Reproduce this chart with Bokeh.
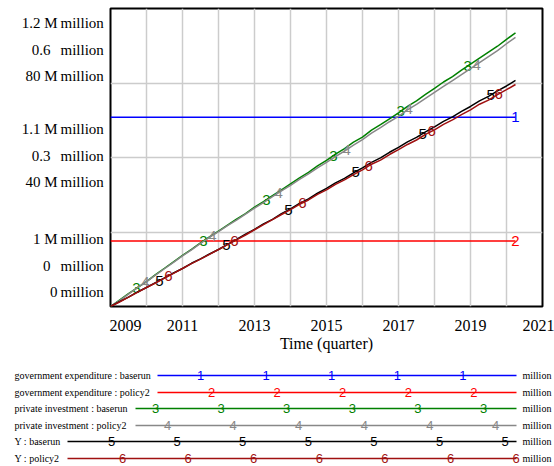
import numpy as np
from bokeh.plotting import figure
from bokeh.models import Range1d, FixedTicker
from bokeh.layouts import column, row
from bokeh.embed import file_html
from bokeh.resources import INLINE
from bokeh.core.properties import value

# ---------------- data ----------------
time = np.arange(2009.0, 2020.26, 0.25)  # quarterly time steps (46)

gov_baserun = 1.127   # M million (constant)
gov_policy2 = 1.044   # M million (constant)

inv_baserun = [0.000, 0.013, 0.026, 0.038, 0.050, 0.064, 0.077, 0.090, 0.103, 0.115,
               0.128, 0.140, 0.152, 0.164, 0.176, 0.187, 0.200, 0.211, 0.223, 0.235,
               0.247, 0.259, 0.270, 0.283, 0.294, 0.307, 0.318, 0.331, 0.341, 0.355,
               0.366, 0.378, 0.390, 0.403, 0.414, 0.427, 0.439, 0.452, 0.463, 0.476,
               0.488, 0.500, 0.512, 0.524, 0.538, 0.551]
inv_policy2 = [0.000, 0.012, 0.025, 0.038, 0.050, 0.063, 0.076, 0.089, 0.102, 0.114,
               0.127, 0.139, 0.151, 0.163, 0.174, 0.186, 0.198, 0.209, 0.221, 0.233,
               0.244, 0.256, 0.267, 0.279, 0.290, 0.302, 0.313, 0.325, 0.336, 0.349,
               0.360, 0.372, 0.383, 0.396, 0.407, 0.419, 0.431, 0.443, 0.455, 0.467,
               0.479, 0.491, 0.503, 0.515, 0.529, 0.542]
y_baserun = [0.0, 1.3, 2.5, 3.9, 5.1, 6.4, 7.7, 9.0, 10.2, 11.6,
             12.8, 14.1, 15.3, 16.7, 18.0, 19.4, 20.7, 22.2, 23.4, 24.9,
             26.2, 27.7, 28.9, 30.4, 31.7, 33.2, 34.4, 35.9, 37.2, 38.7,
             39.9, 41.4, 42.7, 44.2, 45.4, 46.9, 48.2, 49.7, 50.9, 52.4,
             53.7, 55.2, 56.4, 57.9, 59.2, 60.7]
y_policy2 = [0.0, 1.2, 2.5, 3.8, 5.1, 6.3, 7.6, 8.9, 10.2, 11.5,
             12.7, 14.0, 15.3, 16.6, 17.9, 19.2, 20.6, 22.0, 23.3, 24.7,
             26.0, 27.4, 28.6, 30.1, 31.3, 32.8, 34.0, 35.4, 36.7, 38.2,
             39.3, 40.8, 42.1, 43.5, 44.7, 46.2, 47.4, 48.9, 50.1, 51.5,
             52.8, 54.3, 55.4, 56.9, 58.2, 59.6]

# times where the series number marks are drawn
marks_1 = [2020.25]
marks_2 = [2020.25]
marks_3 = [2009.72, 2011.58, 2013.33, 2015.19, 2017.06, 2018.92]
marks_4 = [2009.97, 2011.83, 2013.67, 2015.56, 2017.28, 2019.17]
marks_5 = [2010.36, 2012.22, 2013.94, 2015.81, 2017.67, 2019.56]
marks_6 = [2010.61, 2012.44, 2014.33, 2016.17, 2017.92, 2019.78]

x_ticks = [2009, 2011, 2013, 2015, 2017, 2019, 2021]
x_tick_labels = ["2009", "2011", "2013", "2015", "2017", "2019", "2021"]
x_grid_years = [2009, 2010, 2011, 2012, 2013, 2014, 2015, 2016, 2017, 2018, 2019, 2020, 2021]
x_label = "Time (quarter)"

scale_names = ["gov", "inv", "default"]
scale_ranges = {"gov": (1.0, 1.2), "inv": (0.0, 0.6), "default": (0.0, 80.0)}
scale_ticks = {"gov": [1.0, 1.1, 1.2], "inv": [0.0, 0.3, 0.6], "default": [0.0, 40.0, 80.0]}
scale_tick_labels = {"gov": ["1 M", "1.1 M", "1.2 M"],
                     "inv": ["0", "0.3", "0.6"],
                     "default": ["0", "40 M", "80 M"]}
y_grid_ticks = [0, 20, 40, 60, 80]
unit = "million"

names = ["government expenditure : baserun", "government expenditure : policy2",
         "private investment : baserun", "private investment : policy2",
         "Y : baserun", "Y : policy2"]
numbers = ["1", "2", "3", "4", "5", "6"]
colors = ["#0000FF", "#FF0000", "#008000", "#888888", "#000000", "#A01010"]
ranges = ["gov", "gov", "inv", "inv", "default", "default"]
values = [[gov_baserun] * len(time), [gov_policy2] * len(time),
          inv_baserun, inv_policy2, y_baserun, y_policy2]
marks = [marks_1, marks_2, marks_3, marks_4, marks_5, marks_6]

SERIF = "Liberation Serif"
SANS = "Liberation Sans"

MAIN_H = 364
TOP = 8
BOTTOM = 58

shared_y = Range1d(*scale_ranges["default"])
shared_extra = {"gov": Range1d(*scale_ranges["gov"]), "inv": Range1d(*scale_ranges["inv"])}

# ---------------- main chart ----------------
p = figure(width=445, height=MAIN_H, x_range=Range1d(2009, 2021), y_range=shared_y,
           output_backend="svg", toolbar_location=None,
           min_border_left=1, min_border_right=12, min_border_top=TOP, min_border_bottom=BOTTOM)
p.extra_y_ranges = shared_extra

p.outline_line_color = "black"
p.outline_line_width = 2
p.background_fill_color = "white"
p.border_fill_color = "white"

p.yaxis.visible = False
p.ygrid.ticker = FixedTicker(ticks=y_grid_ticks)
p.xgrid.ticker = FixedTicker(ticks=x_grid_years)
p.grid.grid_line_color = "#CCCCCC"
p.grid.grid_line_width = 1.5

p.xaxis.ticker = FixedTicker(ticks=x_ticks)
p.xaxis.major_label_overrides = {t: l for t, l in zip(x_ticks, x_tick_labels)}
p.xaxis.axis_line_color = None
p.xaxis.major_tick_line_color = None
p.xaxis.minor_tick_line_color = None
p.xaxis.major_tick_out = 0
p.xaxis.major_label_standoff = 13
p.xaxis.major_label_text_font = SERIF
p.xaxis.major_label_text_font_size = "16px"
p.xaxis.major_label_text_color = "black"
p.xaxis.axis_label = x_label
p.xaxis.axis_label_standoff = 1
p.xaxis.axis_label_text_font = SERIF
p.xaxis.axis_label_text_font_size = "16px"
p.xaxis.axis_label_text_font_style = "normal"
p.xaxis.axis_label_text_color = "black"

for vals, rng, col, num, mt in zip(values, ranges, colors, numbers, marks):
    p.line(x=time, y=vals, y_range_name=rng, line_color=col, line_width=1.5)
    my = np.interp(mt, time, vals)
    p.text(x=mt, y=my, text=[num] * len(mt), y_range_name=rng,
           text_color=col, text_font=value(SANS), text_font_size="15px",
           text_align="center", text_baseline="middle")

# ---------------- stacked multi-scale tick labels (left strip) ----------------
LW = 109
lf = figure(width=LW, height=MAIN_H, x_range=Range1d(0, LW), y_range=shared_y,
            output_backend="svg", toolbar_location=None,
            min_border_left=0, min_border_right=0, min_border_top=TOP, min_border_bottom=BOTTOM)
lf.extra_y_ranges = shared_extra
lf.axis.visible = False
lf.grid.visible = False
lf.outline_line_color = None
lf.background_fill_color = "white"
lf.border_fill_color = "white"

group_up = [41, 2, -41]      # bottom / middle / top tick groups (pixels, upward)
row_up = [26.5, 0, -26.5]    # gov / inv / Y rows inside a group
num_right = {"gov": 57, "inv": 50, "default": 57}
unit_left = 60
for r, sname in enumerate(scale_names):
    tv = scale_ticks[sname]
    tl = scale_tick_labels[sname]
    offs = [-(group_up[k] + row_up[r]) for k in range(len(tv))]
    lf.text(x=[num_right[sname]] * len(tv), y=tv, text=tl, y_offset=offs,
            y_range_name=sname, text_font=value(SERIF), text_font_size="15px",
            text_align="right", text_baseline="middle", text_color="black")
    lf.text(x=[unit_left] * len(tv), y=tv, text=[unit] * len(tv), y_offset=offs,
            y_range_name=sname, text_font=value(SERIF), text_font_size="15px",
            text_align="left", text_baseline="middle", text_color="black")

# ---------------- legend strip ----------------
LH = 466 - MAIN_H
lg = figure(width=554, height=LH, x_range=Range1d(0, 554), y_range=Range1d(LH, 0),
            output_backend="svg", toolbar_location=None,
            min_border_left=0, min_border_right=0, min_border_top=0, min_border_bottom=0)
lg.axis.visible = False
lg.grid.visible = False
lg.outline_line_color = None
lg.background_fill_color = "white"
lg.border_fill_color = "white"

row_y = [11, 28, 44, 61, 77, 94]
line_start = [157, 157, 135, 135, 67, 67]
line_end = 516
first_mark = [200, 211, 155, 167, 111, 122]
mark_step = 65.6
for i in range(6):
    y = row_y[i]
    lg.text(x=[14], y=[y], text=[names[i]], text_font=value(SERIF), text_font_size="10px",
            text_align="left", text_baseline="middle", text_color="black")
    lg.segment(x0=[line_start[i]], y0=[y], x1=[line_end], y1=[y],
               line_color=colors[i], line_width=1.5)
    xs = []
    x = first_mark[i]
    while x <= line_end + 0.5:
        xs.append(x)
        x += mark_step
    lg.text(x=xs, y=[y] * len(xs), text=[numbers[i]] * len(xs), text_color=colors[i],
            text_font=value(SANS), text_font_size="13px",
            text_align="center", text_baseline="middle")
    lg.text(x=[line_end + 6], y=[y], text=[unit], text_font=value(SERIF), text_font_size="10px",
            text_align="left", text_baseline="middle", text_color="black")

layout = column(row(lf, p, spacing=0), lg, spacing=0)
open("out.html", "w").write(file_html(layout, INLINE))
